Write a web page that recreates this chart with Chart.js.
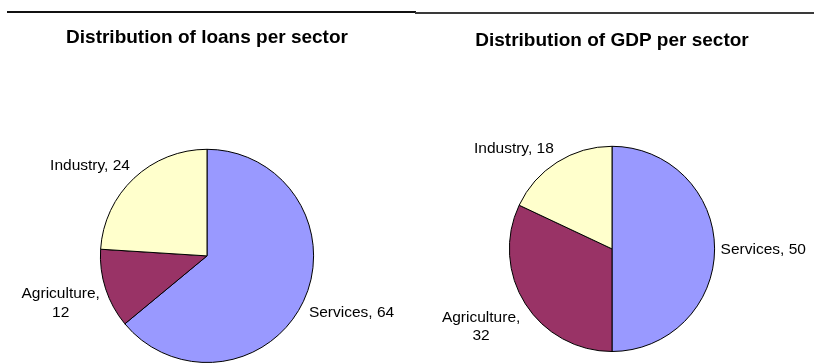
<!DOCTYPE html>
<html>
<head>
<meta charset="utf-8">
<script src="https://cdn.jsdelivr.net/npm/chart.js@4.4.1/dist/chart.umd.min.js"></script>
<style>
  html, body { margin: 0; padding: 0; background: #fff; }
  body { width: 814px; height: 363px; position: relative; overflow: hidden; }
  .rule { position: absolute; height: 2px; }
  #ruleLeft { left: 7px; top: 11px; width: 409px; background: #111; }
  #ruleRight { left: 415px; top: 12px; width: 399px; background: #3a3a3a; }
  .pane { position: absolute; top: 0; height: 363px; }
  #paneLoans { left: 0; width: 414px; }
  #paneGdp { left: 414px; width: 400px; }
</style>
</head>
<body>
<div class="rule" id="ruleLeft"></div>
<div class="rule" id="ruleRight"></div>
<div class="pane" id="paneLoans"><canvas id="loansChart" width="414" height="363"></canvas></div>
<div class="pane" id="paneGdp"><canvas id="gdpChart" width="400" height="363"></canvas></div>
<script>
const sectors = ['Services', 'Agriculture', 'Industry'];
const loanShares = [64, 12, 24];
const gdpShares = [50, 32, 18];
const sectorColors = ['#9999FF', '#993366', '#FFFFCC'];
const loansTitle = 'Distribution of loans per sector';
const gdpTitle = 'Distribution of GDP per sector';

const FONT = '"Liberation Sans", Arial, Helvetica, sans-serif';

const clamp = v => Math.max(-1, Math.min(1, v));

// "Category, value" labels outside each slice, wrapped after the comma when too wide.
// The label box is pushed away from the slice edge towards its corner on that side.
const sliceLabels = {
    id: 'sliceLabels',
    afterDatasetsDraw(chart, args, opts) {
        const ctx = chart.ctx;
        const meta = chart.getDatasetMeta(0);
        const values = chart.data.datasets[0].data;
        ctx.save();
        ctx.font = '15.5px ' + FONT;
        ctx.fillStyle = '#000';
        ctx.textAlign = 'center';
        ctx.textBaseline = 'middle';
        meta.data.forEach((arc, i) => {
            const p = arc.getProps(['x', 'y', 'startAngle', 'endAngle', 'outerRadius'], true);
            const mid = (p.startAngle + p.endAngle) / 2;
            const dx = Math.cos(mid), dy = Math.sin(mid);
            const full = chart.data.labels[i] + ', ' + values[i];
            let lines = [full];
            if (ctx.measureText(full).width > opts.maxWidth) {
                lines = [chart.data.labels[i] + ',', String(values[i])];
            }
            const w = Math.max(...lines.map(l => ctx.measureText(l).width));
            const h = lines.length * opts.lineHeight;
            const ax = p.x + dx * (p.outerRadius + opts.gap);
            const ay = p.y + dy * (p.outerRadius + opts.gap);
            const cx = ax + clamp(2 * dx) * w / 2;
            const cy = ay + clamp(2 * dy) * h / 2;
            lines.forEach((line, k) => {
                ctx.fillText(line, cx, cy - h / 2 + opts.lineHeight * (k + 0.5) + 1);
            });
        });
        ctx.restore();
    }
};

function makePie(id, values, title, titlePad, layoutPad) {
    return new Chart(document.getElementById(id), {
        type: 'pie',
        data: {
            labels: sectors,
            datasets: [{
                data: values,
                backgroundColor: sectorColors,
                borderColor: '#000',
                borderWidth: 1
            }]
        },
        options: {
            responsive: false,
            animation: false,
            layout: { padding: layoutPad },
            plugins: {
                legend: { display: false },
                tooltip: { enabled: false },
                title: {
                    display: true,
                    text: title,
                    color: '#000',
                    font: { family: FONT, size: 19, weight: 'bold', lineHeight: 1.2 },
                    padding: titlePad
                },
                sliceLabels: { gap: 6, lineHeight: 18.5, maxWidth: 92 }
            }
        },
        plugins: [sliceLabels]
    });
}

makePie('loansChart', loanShares, loansTitle, { top: 26, bottom: 100 }, { top: 0, bottom: 0, left: 0, right: 0 });
makePie('gdpChart', gdpShares, gdpTitle, { top: 29, bottom: 94 }, { top: 0, bottom: 11, left: 0, right: 4 });
</script>
</body>
</html>
